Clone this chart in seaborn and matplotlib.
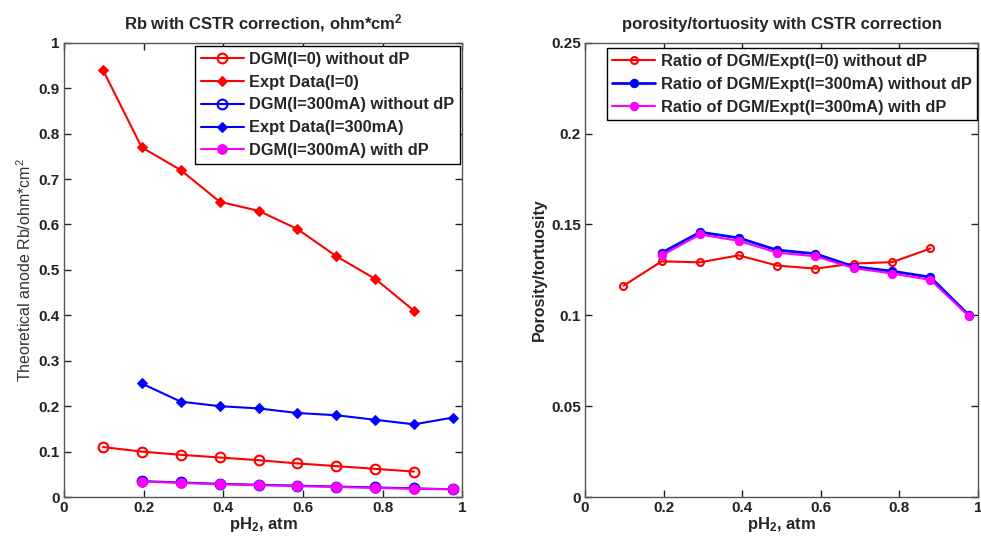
import numpy as np
import pandas as pd
import seaborn as sns
import matplotlib
matplotlib.use("Agg")
import matplotlib.pyplot as plt

# pH2 values (atm)
x_i0 = [0.098, 0.195, 0.293, 0.391, 0.489, 0.586, 0.684, 0.782, 0.879]
x_i300 = [0.195, 0.293, 0.391, 0.489, 0.586, 0.684, 0.782, 0.879, 0.977]

# left panel: Rb (ohm*cm2)
dgm_i0 = [0.11, 0.10, 0.093, 0.087, 0.081, 0.074, 0.068, 0.062, 0.056]
expt_i0 = [0.94, 0.77, 0.72, 0.65, 0.63, 0.59, 0.53, 0.48, 0.41]
dgm_i300 = [0.035, 0.032, 0.029, 0.027, 0.025, 0.023, 0.021, 0.019, 0.017]
expt_i300 = [0.25, 0.21, 0.20, 0.195, 0.185, 0.18, 0.17, 0.16, 0.175]
dgm_i300_dp = [0.034, 0.031, 0.028, 0.026, 0.024, 0.022, 0.020, 0.018, 0.017]

# right panel: porosity/tortuosity ratios
ratio_i0 = [0.1163, 0.1297, 0.1292, 0.133, 0.1274, 0.1257, 0.1285, 0.1293, 0.1368]
ratio_i300 = [0.1344, 0.1458, 0.1426, 0.1359, 0.1339, 0.1268, 0.1243, 0.121, 0.1]
ratio_i300_dp = [0.133, 0.1445, 0.141, 0.1345, 0.1325, 0.126, 0.123, 0.1195, 0.0995]

sns.set_style("ticks")
plt.rcParams["font.family"] = ["Liberation Sans", "DejaVu Sans"]
plt.rcParams["font.weight"] = "bold"
plt.rcParams["mathtext.default"] = "regular"

fig = plt.figure(figsize=(9.81, 5.42), dpi=100)
ax1 = fig.add_axes([0.0652, 0.083, 0.406, 0.838])
ax2 = fig.add_axes([0.5963, 0.083, 0.4007, 0.838])

red, blue, mag = "#ff0000", "#0000ff", "#ff00ff"

sns.lineplot(x=x_i0, y=dgm_i0, ax=ax1, color=red, marker="o", markersize=7,
             markerfacecolor="none", markeredgecolor=red, markeredgewidth=1.5,
             linewidth=1.5, label="DGM(I=0) without dP")
sns.lineplot(x=x_i0, y=expt_i0, ax=ax1, color=red, marker="D", markersize=5,
             markeredgecolor=red, linewidth=1.5, label="Expt Data(I=0)")
sns.lineplot(x=x_i300, y=dgm_i300, ax=ax1, color=blue, marker="o", markersize=7,
             markerfacecolor="none", markeredgecolor=blue, markeredgewidth=1.5,
             linewidth=1.5, label="DGM(I=300mA) without dP")
sns.lineplot(x=x_i300, y=expt_i300, ax=ax1, color=blue, marker="D", markersize=5,
             markeredgecolor=blue, linewidth=1.5, label="Expt Data(I=300mA)")
sns.lineplot(x=x_i300, y=dgm_i300_dp, ax=ax1, color=mag, marker="o", markersize=7,
             markeredgecolor=mag, linewidth=1.5, label="DGM(I=300mA) with dP")

sns.lineplot(x=x_i0, y=ratio_i0, ax=ax2, color=red, marker="o", markersize=5,
             markerfacecolor="none", markeredgecolor=red, markeredgewidth=1.5,
             linewidth=1.5, label="Ratio of DGM/Expt(I=0) without dP")
sns.lineplot(x=x_i300, y=ratio_i300, ax=ax2, color=blue, marker="o", markersize=6,
             markeredgecolor=blue, linewidth=2, label="Ratio of DGM/Expt(I=300mA) without dP")
sns.lineplot(x=x_i300, y=ratio_i300_dp, ax=ax2, color=mag, marker="o", markersize=6,
             markeredgecolor=mag, linewidth=1.5, label="Ratio of DGM/Expt(I=300mA) with dP")

for ax in (ax1, ax2):
    ax.set_xlim(0, 1)
    ax.set_xticks([0, 0.2, 0.4, 0.6, 0.8, 1])
    ax.set_xticklabels(["0", "0.2", "0.4", "0.6", "0.8", "1"])
    ax.tick_params(direction="in", top=True, right=True, labelsize=11,
                   length=5, width=1, colors="#222222", pad=3)
    for s in ax.spines.values():
        s.set_color("#555555")
        s.set_linewidth(1)
    ax.set_xlabel("pH$_2$, atm", fontsize=12, fontweight="bold", labelpad=0)

ax1.set_ylim(0, 1)
ax1.set_yticks(np.arange(0, 1.01, 0.1))
ax1.set_yticklabels(["0", "0.1", "0.2", "0.3", "0.4", "0.5", "0.6", "0.7", "0.8", "0.9", "1"])
ax1.set_ylabel("Theoretical anode Rb/ohm*cm$^2$", fontsize=11.5, fontweight="normal",
               color="#333333", labelpad=3)
ax1.set_title("Rb with CSTR correction, ohm*cm$^2$", fontsize=12, fontweight="bold", pad=10)

ax2.set_ylim(0, 0.25)
ax2.set_yticks([0, 0.05, 0.1, 0.15, 0.2, 0.25])
ax2.set_yticklabels(["0", "0.05", "0.1", "0.15", "0.2", "0.25"])
ax2.set_ylabel("Porosity/tortuosity", fontsize=11.5, fontweight="bold", labelpad=3)
ax2.set_title("porosity/tortuosity with CSTR correction", fontsize=12, fontweight="bold", pad=10)

for ax, kw in ((ax1, dict(loc="upper right", bbox_to_anchor=(0.995, 0.993))),
               (ax2, dict(loc="upper left", bbox_to_anchor=(0.055, 0.988)))):
    leg = ax.legend(fontsize=11.8, frameon=True, fancybox=False,
                    edgecolor="black", framealpha=1, handlelength=2.6,
                    borderpad=0.35, labelspacing=0.48, handletextpad=0.35,
                    borderaxespad=0.0, **kw)
    leg.get_frame().set_linewidth(1)
    for t in leg.get_texts():
        t.set_fontweight("bold")

fig.savefig("out.png", dpi=100)
